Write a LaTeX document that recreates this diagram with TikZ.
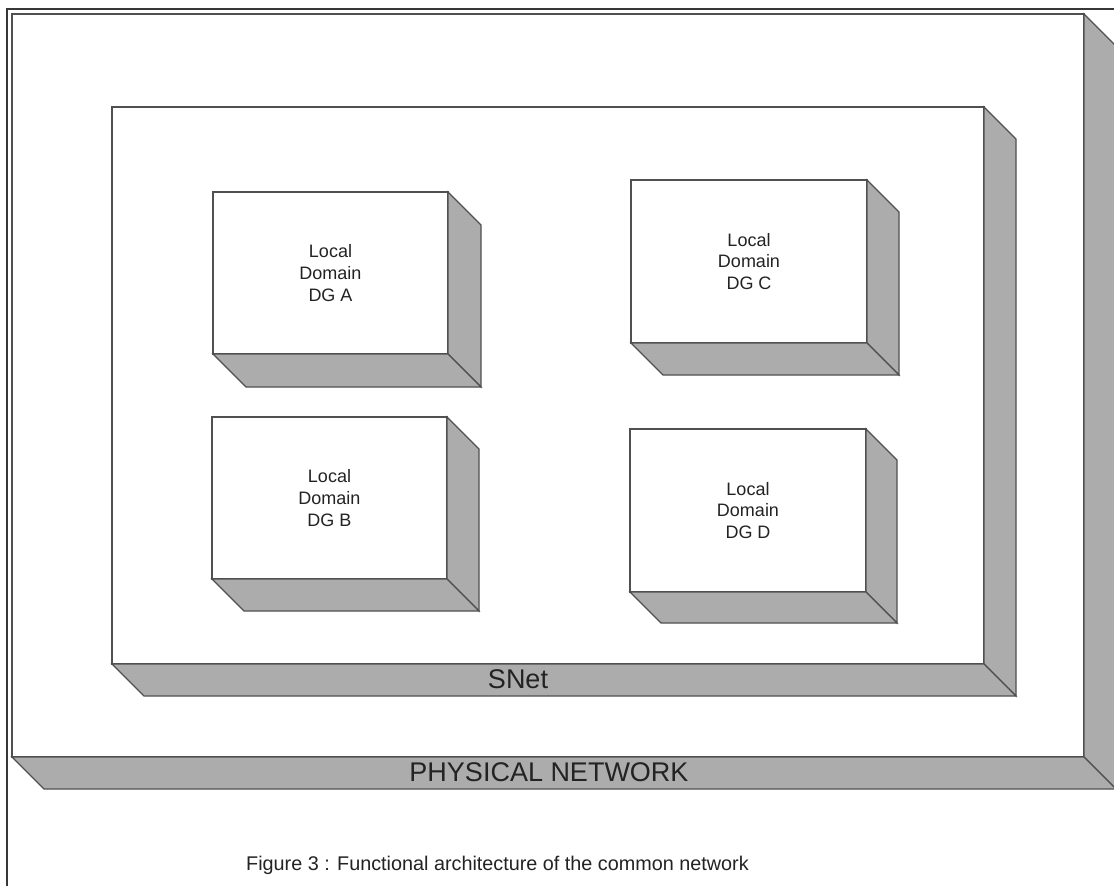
\documentclass[tikz,border=0pt]{standalone}
\usepackage{fontspec}
\setmainfont{Liberation Sans}
\definecolor{edgecol}{RGB}{80,80,80}
\definecolor{framecol}{RGB}{55,55,55}
\definecolor{shadecol}{RGB}{172,172,172}
\definecolor{txtcol}{RGB}{35,35,35}
\tikzset{
  face/.style={draw=edgecol, line width=1.1pt, fill=white},
  sideface/.style={draw=edgecol, line width=1.1pt, fill=shadecol, line join=miter},
  lbl/.style={text=txtcol, align=center, inner sep=0pt, font=\fontsize{18}{21.7}\selectfont},
  bandlbl/.style={text=txtcol, inner sep=0pt, font=\fontsize{27}{30}\selectfont},
  caplbl/.style={text=txtcol, inner sep=0pt, font=\fontsize{19.8}{24}\selectfont},
}
% x1, y1, x2, y2, depth
\newcommand{\blockbox}[5]{%
  \draw[face] (#1,#2) rectangle (#3,#4);
  \draw[sideface] (#3,#2) -- ({#3+#5},{#2+#5}) -- ({#3+#5},{#4+#5}) -- (#3,#4) -- cycle;
  \draw[sideface] (#1,#4) -- (#3,#4) -- ({#3+#5},{#4+#5}) -- ({#1+#5},{#4+#5}) -- cycle;
}
\begin{document}
\begin{tikzpicture}[x=1pt,y=-1pt]
\useasboundingbox (0,0) rectangle (1114,886);
\clip (0,0) rectangle (1114,886);
\fill[white] (0,0) rectangle (1114,886);
% outer frame
\draw[draw=framecol, line width=2.2pt] (7,9) rectangle (1140,910);
% physical network
\blockbox{12}{14}{1084}{757}{32}
\node[bandlbl] (phys) at (549,772.5) {PHYSICAL NETWORK};
% SNet
\blockbox{112}{107}{984}{664}{32}
\node[bandlbl] (snet) at (518,679.5) {SNet};
% local domains
\blockbox{213}{192}{448}{354}{33}
\node[lbl] (dgA) at (330.5,273) {Local\\Domain\\DG A};
\blockbox{212}{417}{447}{579}{32}
\node[lbl] (dgB) at (329.5,498) {Local\\Domain\\DG B};
\blockbox{631}{180}{867}{343}{32}
\node[lbl] (dgC) at (749,261.5) {Local\\Domain\\DG C};
\blockbox{630}{429}{866}{592}{31}
\node[lbl] (dgD) at (748,510.5) {Local\\Domain\\DG D};
% caption
\node[caplbl] (cap) at (497.5,865) {Figure 3 : Functional architecture of the common network};
\end{tikzpicture}
\end{document}
